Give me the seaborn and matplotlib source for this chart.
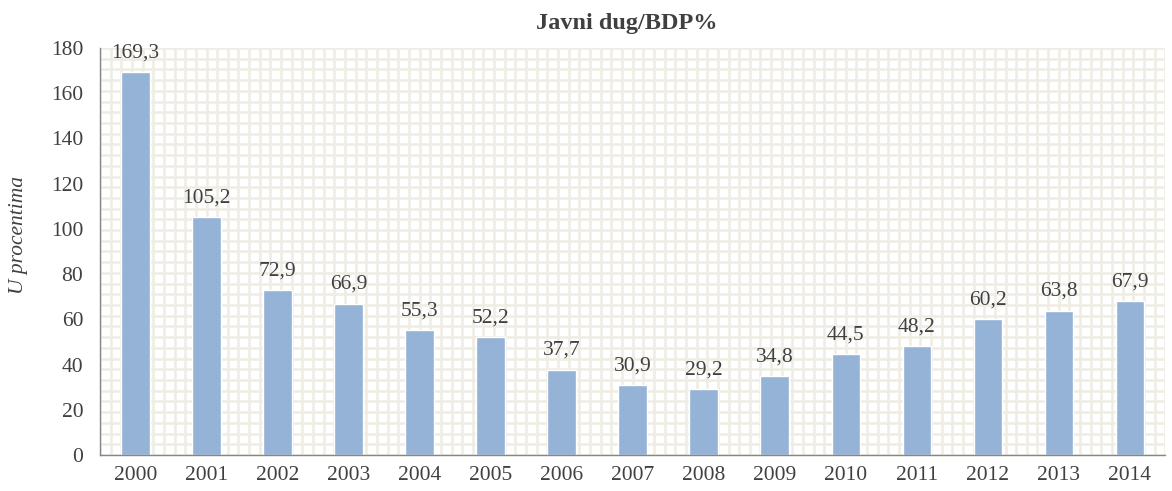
import numpy as np
import pandas as pd
import seaborn as sns
import matplotlib.pyplot as plt
from matplotlib.ticker import FixedLocator

# ── data ──────────────────────────────────────────────────────────────────────
years = ["2000", "2001", "2002", "2003", "2004", "2005", "2006", "2007",
         "2008", "2009", "2010", "2011", "2012", "2013", "2014"]
debt_gdp = [169.3, 105.2, 72.9, 66.9, 55.3, 52.2, 37.7, 30.9,
            29.2, 34.8, 44.5, 48.2, 60.2, 63.8, 67.9]

title = "Javni dug/BDP%"
y_label = "U procentima"

# ── style ─────────────────────────────────────────────────────────────────────
sns.set_style("white")
plt.rcParams["font.family"] = ["Liberation Serif", "DejaVu Serif"]

bar_color = "#95B3D7"
axis_color = "#868686"
text_color = "#404040"
pattern_color = "#EFEDE3"
fs = 15.5

df = pd.DataFrame({"year": years, "value": debt_gdp})

fig = plt.figure(figsize=(11.72, 4.91), dpi=100)
ax = fig.add_axes([0.0853, 0.0733, 0.909, 0.829])

# background grid pattern (Excel-like)
ax.vlines(np.linspace(0, 1, 101), 0, 1, transform=ax.transAxes,
          color=pattern_color, linewidth=1.8, zorder=0)
ax.hlines(np.linspace(0, 1, 39), 0, 1, transform=ax.transAxes,
          color=pattern_color, linewidth=1.8, zorder=0)

sns.barplot(data=df, x="year", y="value", color=bar_color, width=0.4,
            saturation=1, ax=ax, zorder=2)

for i, v in enumerate(debt_gdp):
    ax.annotate(f"{v:.1f}".replace(".", ","), (i, v), xytext=(0, 7),
                textcoords="offset points", ha="center", va="bottom",
                fontsize=fs, color=text_color)

ax.set_xlim(-0.5, len(years) - 0.5)
ax.set_ylim(0, 180)
ax.set_yticks(range(0, 181, 20))

ax.xaxis.set_minor_locator(FixedLocator(np.arange(-0.5, len(years), 1)))
ax.tick_params(axis="x", which="major", length=0, pad=8,
               labelsize=fs, labelcolor=text_color)
ax.tick_params(axis="x", which="minor", length=5, width=1,
               color=axis_color, direction="out")
ax.tick_params(axis="y", which="major", length=5, width=1,
               color=axis_color, direction="out", pad=7,
               labelsize=fs, labelcolor=text_color)

for side in ["top", "right"]:
    ax.spines[side].set_visible(False)
for side in ["left", "bottom"]:
    ax.spines[side].set_color(axis_color)
    ax.spines[side].set_linewidth(1)
    ax.spines[side].set_zorder(3)

ax.set_xlabel("")
ax.set_ylabel(y_label, fontsize=fs, style="italic", color=text_color)
ax.yaxis.set_label_coords(-0.068, 0.54)
fig.text(0.535, 0.953, title, ha="center", va="center", fontsize=17.5,
         fontweight="bold", color=text_color)

fig.savefig("out.png", dpi=100)
